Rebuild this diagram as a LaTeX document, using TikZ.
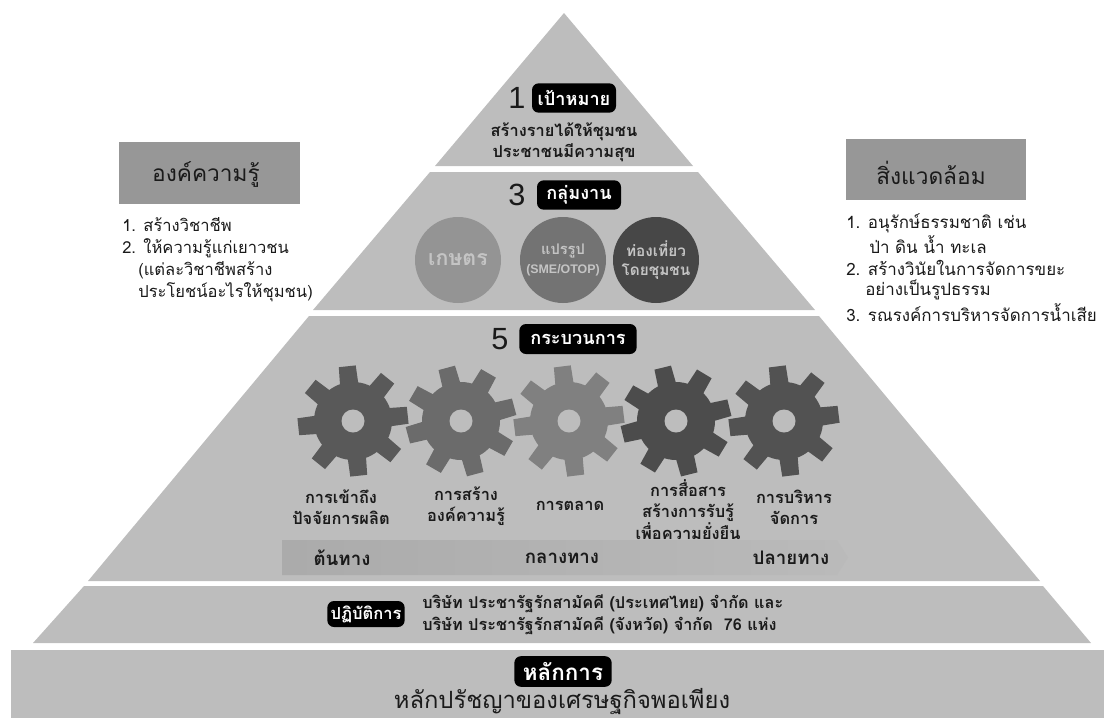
\documentclass[tikz,border=0pt]{standalone}
\usepackage{fontspec}
\setmainfont[Script=Thai]{Loma}
\newfontfamily\latinf{Liberation Sans}
\definecolor{layer}{HTML}{BDBDBD}
\definecolor{boxc}{HTML}{979797}
\definecolor{ink}{HTML}{1A1A1A}
\newcommand{\fs}[2]{\fontsize{#1}{#2}\selectfont}
\lineskiplimit=-30pt
\tikzset{
  layerfill/.style={fill=layer,draw=none},
  pill/.style={fill=black,text=white,rounded corners=5pt,inner sep=0pt,font=\bfseries\fs{13.6}{16}},
  num/.style={font=\latinf\fs{23}{23},text=ink,inner sep=0},
  bold/.style={font=\bfseries\fs{12.3}{16},text=ink,inner sep=0,align=center},
  barlabel/.style={font=\bfseries\fs{14}{16},text=ink,inner sep=0},
  firm/.style={font=\bfseries\fs{12.2}{16},text=ink,inner sep=0,anchor=west},
  plain/.style={font=\fs{12.4}{16},text=ink,inner sep=0,anchor=west},
  circ/.style={circle,minimum size=64.5pt,inner sep=0,draw=none,text=#1,font=\bfseries\fs{11.5}{14.5},align=center},
  sidebox/.style={fill=boxc,draw=none,inner sep=0},
  sidelabel/.style={font=\fs{17}{20},text=ink,inner sep=0},
}
\newcommand{\gearshape}[4]{%
  \begin{scope}[shift={(#1,#2)}]
    \foreach \k in {0,45,...,315}{
      \fill[#4,rotate=#3+\k] (28,-9.5) -- (55,-8.5) -- (55,8.5) -- (28,9.5) -- cycle;
    }
    \fill[#4] (0,0) circle (39);
    \fill[layer] (0,0) circle (11.5);
  \end{scope}}
\begin{document}
\begin{tikzpicture}[x=0.75pt,y=-0.75pt]
\useasboundingbox (0,0) rectangle (1104,718);
% layers
\fill[layerfill] (564,13) -- (693,166) -- (435,166) -- cycle;
\fill[layerfill] (430,172) -- (698,172) -- (815,310) -- (313,310) -- cycle;
\fill[layerfill] (309,316) -- (819,316) -- (1040,581) -- (88,581) -- cycle;
\fill[layerfill] (84,586) -- (1043,586) -- (1091,643) -- (33,643) -- cycle;
\fill[layerfill] (11,650) rectangle (1104,718);
% top
\node[num] (n1) at (517,98) {1};
\node[pill,minimum width=63pt,minimum height=22pt] (p1) at (574,98) {เป้าหมาย};
\node[bold] (t1) at (564,142.5) {สร้างรายได้ให้ชุมชน\\ประชาชนมีความสุข};
% second
\node[num] (n3) at (517,195) {3};
\node[pill,minimum width=63pt,minimum height=22pt] (p3) at (579,195) {กลุ่มงาน};
\node[circ=layer!90!white,fill=black!42] (c1) at (458,260) {\fs{16}{16}เกษตร};
\node[circ=layer!90!white,fill=black!55] (c2) at (563,260) {\fs{11}{13}แปรรูป\\{\latinf\fs{9.3}{11}(SME/OTOP)}};
\node[circ=layer!90!white,fill=black!72] (c3) at (656,260) {ท่องเที่ยว\\โดยชุมชน};
% third
\node[num] (n5) at (500,339) {5};
\node[pill,minimum width=88pt,minimum height=22.5pt] (p5) at (578,339) {กระบวนการ};
\gearshape{353}{421}{6}{black!65}
\gearshape{461}{421}{15}{black!58}
\gearshape{569}{421}{7}{black!50}
\gearshape{676}{421}{14}{black!70}
\gearshape{784}{421}{7}{black!68}
\node[bold] (g1) at (341,507.5) {การเข้าถึง\\ปัจจัยการผลิต};
\node[bold] (g2) at (466,506) {การสร้าง\\องค์ความรู้};
\node[bold] (g3) at (570,506) {การตลาด};
\node[bold] (g4) at (688,509.5) {การสื่อสาร\\สร้างการรับรู้\\เพื่อความยั่งยืน};
\node[bold] (g5) at (794,507) {การบริหาร\\จัดการ};
% bar
\shade[left color=black!33,right color=black!27] (282,540) -- (837,540) -- (848,557.5) -- (837,575) -- (282,575) -- cycle;
\node[barlabel] (b1) at (342,558) {ต้นทาง};
\node[barlabel] (b2) at (562,558) {กลางทาง};
\node[barlabel] (b3) at (791,558) {ปลายทาง};
% fourth
\node[pill,font=\bfseries\fs{12.4}{14},minimum width=58pt,minimum height=19.5pt] (p6) at (366,614) {ปฏิบัติการ};
\node[firm] (o1) at (422,604) {บริษัท ประชารัฐรักสามัคคี (ประเทศไทย) จำกัด และ};
\node[firm] (o2) at (422,626) {บริษัท ประชารัฐรักสามัคคี (จังหวัด) จำกัด\ \ 76 แห่ง};
% base
\node[pill,font=\bfseries\fs{16.8}{18},minimum width=73pt,minimum height=23pt] (p7) at (563,671.5) {หลักการ};
\node[font=\fs{17.8}{20},text=ink,inner sep=0] (base) at (562,702) {หลักปรัชญาของเศรษฐกิจพอเพียง};
% left
\node[sidebox,minimum width=135.75pt,minimum height=46.5pt] (lb) at (209.5,173) {};
\node[sidelabel] (lbt) at (206,175) {องค์ความรู้};
\node[plain] (l1) at (122,225) {1. สร้างวิชาชีพ};
\node[plain] (l2) at (122,248) {2. ให้ความรู้แก่เยาวชน};
\node[plain] (l3) at (138,270) {(แต่ละวิชาชีพสร้าง};
\node[plain] (l4) at (138,292) {ประโยชน์อะไรให้ชุมชน)};
% right
\node[sidebox,minimum width=135pt,minimum height=45.75pt] (rb) at (936,169.5) {};
\node[sidelabel] (rbt) at (931,173) {สิ่งแวดล้อม};
\node[plain,font=\fs{12.7}{16}] (r1) at (846,223) {1. อนุรักษ์ธรรมชาติ เช่น};
\node[plain,font=\fs{12.7}{16}] (r2) at (869,245) {ป่า ดิน น้ำ ทะเล};
\node[plain,font=\fs{12.7}{16}] (r3) at (846,268) {2. สร้างวินัยในการจัดการขยะ};
\node[plain,font=\fs{12.7}{16}] (r4) at (865,290) {อย่างเป็นรูปธรรม};
\node[plain,font=\fs{12.7}{16}] (r5) at (846,313) {3. รณรงค์การบริหารจัดการน้ำเสีย};
\end{tikzpicture}
\end{document}
